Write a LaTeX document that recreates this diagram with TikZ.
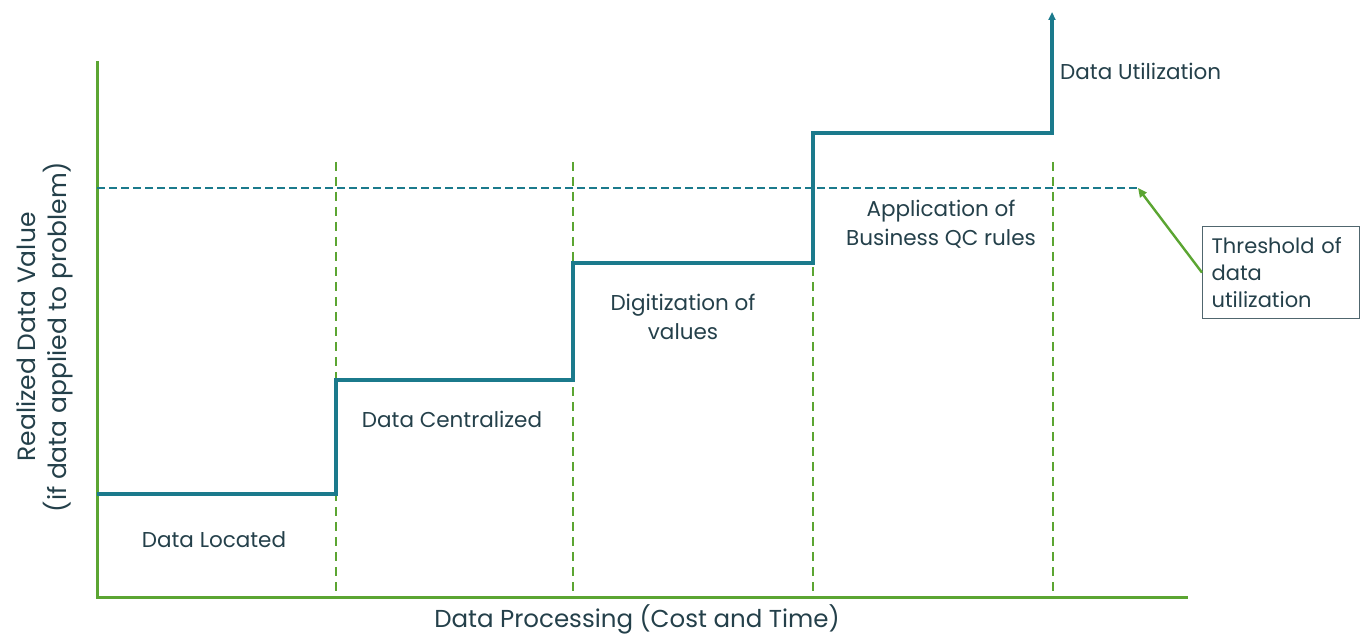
\documentclass[tikz,border=0pt]{standalone}
\usepackage{fontspec}
\setmainfont{Poppins}
\usetikzlibrary{arrows.meta}
\definecolor{teal}{HTML}{1B7A8C}
\definecolor{leaf}{HTML}{5BA532}
\definecolor{ink}{HTML}{24404A}
\begin{document}
\begin{tikzpicture}[x=1pt,y=-1pt,
  axis/.style={draw=leaf,line width=3pt},
  phase/.style={draw=leaf,line width=2.4pt,dash pattern=on 9pt off 6pt},
  limit/.style={draw=teal,line width=2.2pt,dash pattern=on 8pt off 4pt},
  stepline/.style={draw=teal,line width=3.2pt},
  lbl/.style={text=ink,font=\fontsize{21.5}{28.5}\selectfont,align=center,inner sep=0pt},
  note/.style={draw=ink!80,line width=1.2pt,text=ink,font=\fontsize{21}{27}\selectfont,align=left,inner sep=9pt,text width=139pt,minimum height=92pt}]
\useasboundingbox (0,0) rectangle (1364,636);
% axes
\coordinate (origin) at (97,597);
\coordinate (ytop) at (97,61);
\coordinate (xend) at (1188,597);
\draw[axis] (ytop) -- (origin) -- (xend);
% phase boundaries
\foreach \x/\n in {336/a,573/b,813/c,1053/d}{
  \coordinate (top\n) at (\x,162);
  \coordinate (bot\n) at (\x,597);
  \draw[phase] (top\n) -- (bot\n);
}
% utilisation threshold
\coordinate (thA) at (97,188);
\coordinate (thB) at (1138,188);
\draw[limit] (thA) -- (thB);
% realised value steps
\coordinate (s0) at (97,494);
\coordinate (up) at (1052,12);
\draw[stepline,-{Triangle[length=8pt,width=7pt]}] (s0) -| (336,380) -| (573,263) -| (813,133) -| (up);
% phase labels
\node[lbl] (loc) at (214,540) {Data Located};
\node[lbl] (cen) at (452,419) {Data Centralized};
\node[lbl] (dig) at (683,317) {Digitization of\\values};
\node[lbl] (qc) at (941,224) {Application of\\Business QC rules};
\node[lbl,anchor=west] (use) at (1060,71) {Data Utilization};
% threshold callout
\node[note,anchor=north west] (thr) at (1202,226) {Threshold of\\data\\utilization};
\draw[leaf,line width=2.4pt,-{Triangle[length=9pt,width=8pt]}] (thr.west) -- (thB);
% axis titles
\node[text=ink,font=\fontsize{24.5}{30}\selectfont] (xt) at (637,619) {Data Processing (Cost and Time)};
\node[text=ink,font=\fontsize{25}{31}\selectfont,align=center,rotate=90] (yt) at (45,337) {Realized Data Value\\(if data applied to problem)};
\end{tikzpicture}
\end{document}
